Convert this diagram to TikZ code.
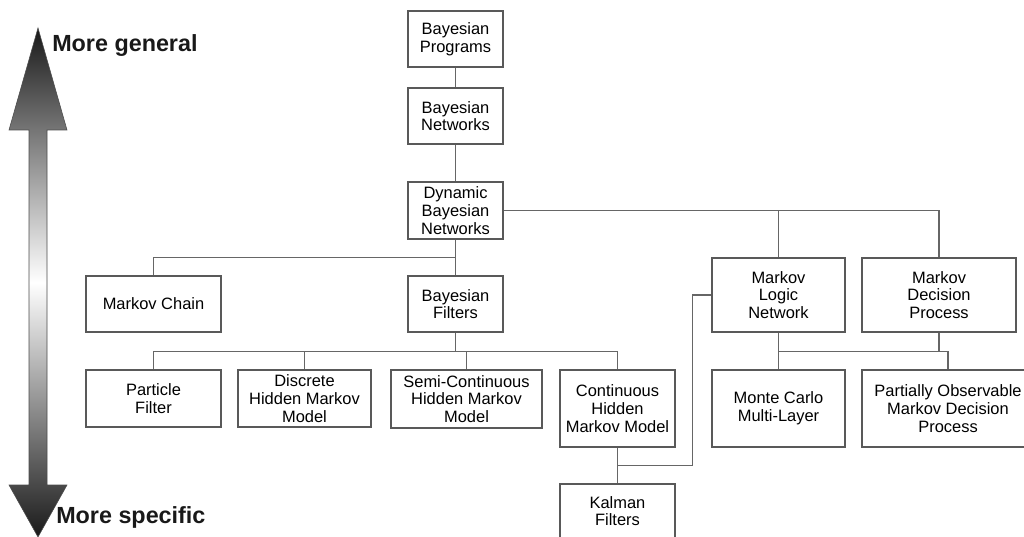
\documentclass[tikz,border=0pt]{standalone}
\usepackage{fontspec}
\setmainfont{Liberation Sans}
\usetikzlibrary{positioning, calc}

\begin{document}
\begin{tikzpicture}[x=0.025cm, y=-0.025cm,
    box/.style={draw=black!65, line width=0.8pt, fill=white, align=center, inner sep=0pt,
                font=\fontsize{11.7}{12.6}\selectfont, text=black},
    link/.style={draw=black!60, line width=0.8pt},
    tag/.style={font=\fontsize{16.6}{18}\selectfont\bfseries, text=black!90, anchor=west, inner sep=0pt}]

    \useasboundingbox (0,0) rectangle (1024,537);

    % generality arrow
    \shade[top color=black!90, bottom color=black!90, middle color=white, draw=black!70, line width=0.4pt]
        (38,28) -- (67,130) -- (47,130) -- (47,485) -- (67,485) -- (38,537)
        -- (9,485) -- (29,485) -- (29,130) -- (9,130) -- cycle;
    \node[tag] (general) at (52,46) {More general};
    \node[tag] (specific) at (56,517) {More specific};

    % boxes
    \node[box, minimum width=2.375cm, minimum height=1.4cm] (prog) at (455.5,39) {Bayesian\\Programs};
    \node[box, minimum width=2.375cm, minimum height=1.4cm] (bnet) at (455.5,116) {Bayesian\\Networks};
    \node[box, minimum width=2.375cm, minimum height=1.425cm] (dbn) at (455.5,210.5) {Dynamic\\Bayesian\\Networks};
    \node[box, minimum width=3.375cm, minimum height=1.4cm] (mchain) at (153.5,304) {Markov Chain};
    \node[box, minimum width=2.375cm, minimum height=1.4cm] (bfilt) at (455.5,304) {Bayesian\\Filters};
    \node[box, minimum width=3.325cm, minimum height=1.85cm] (mln) at (778.5,295) {Markov\\Logic\\Network};
    \node[box, minimum width=3.85cm, minimum height=1.85cm] (mdp) at (939,295) {Markov\\Decision\\Process};

    \node[box, minimum width=3.375cm, minimum height=1.425cm] (particle) at (153.5,398.5) {Particle\\Filter};
    \node[box, minimum width=3.325cm, minimum height=1.425cm] (dhmm) at (304.5,398.5) {Discrete\\Hidden Markov\\Model};
    \node[box, minimum width=3.775cm, minimum height=1.45cm] (schmm) at (466.5,399) {Semi-Continuous\\Hidden Markov\\Model};
    \node[box, minimum width=2.875cm, minimum height=1.925cm] (chmm) at (617.5,408.5) {Continuous\\Hidden\\Markov Model};
    \node[box, minimum width=2.875cm, minimum height=1.925cm] (kalman) at (617.5,522.5) {Kalman\\Filters\\\strut};
    \node[box, minimum width=3.325cm, minimum height=1.925cm] (mcml) at (778.5,408.5) {Monte Carlo\\Multi-Layer};
    \node[box, minimum width=4.3cm, minimum height=1.925cm] (pomdp) at (948,408.5) {Partially Observable\\Markov Decision\\Process};

    % tree links
    \draw[link] (prog) -- (bnet);
    \draw[link] (bnet) -- (dbn);
    \draw[link] (dbn) -- (bfilt);
    \draw[link] (dbn.south) |- ($(dbn.south)!0.5!(bfilt.north)$) -| (mchain.north);
    \draw[link] (dbn.east) -| (mdp.north);
    \draw[link] (dbn.east -| mln.north) -- (mln.north);
    \foreach \c in {particle, dhmm, schmm, chmm}{
        \draw[link] (bfilt.south) -- ++(0,19) -| (\c.north);
    }
    \draw[link] (chmm) -- (kalman);
    \draw[link] ($(chmm.south)!0.5!(kalman.north)$) -| ($(mln.west)+(-19,0)$) -- (mln.west);
    \draw[link] (mln) -- (mcml);
    \draw[link] (mln.south) ++(0,19) -| (pomdp.north);
    \draw[link] (mdp.south) -- ++(0,19);
\end{tikzpicture}
\end{document}
